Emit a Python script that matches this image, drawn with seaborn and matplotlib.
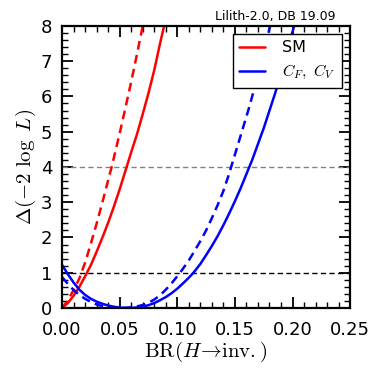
import matplotlib
matplotlib.use("Agg")
import matplotlib.pyplot as plt
import seaborn as sns
from matplotlib.ticker import MultipleLocator, FormatStrFormatter

# ==========================================================
#  Data
# ==========================================================
sm_br = [0.0, 0.005, 0.010, 0.015, 0.020, 0.025, 0.030, 0.035, 0.040, 0.045, 0.050,
         0.056, 0.060, 0.065, 0.070, 0.075, 0.080, 0.085, 0.0885]
sm_chi2 = [0.0, 0.14, 0.35, 0.60, 0.90, 1.22, 1.60, 2.0, 2.42, 2.88, 3.37,
           4.0, 4.42, 4.93, 5.5, 6.1, 6.75, 7.5, 8.0]

sm_dash_br = [0.0, 0.005, 0.010, 0.015, 0.020, 0.025, 0.030, 0.035, 0.040, 0.043,
              0.045, 0.050, 0.055, 0.060, 0.065, 0.070]
sm_dash_chi2 = [0.0, 0.22, 0.51, 0.84, 1.29, 1.83, 2.4, 3.0, 3.63, 4.0,
                4.27, 4.96, 5.68, 6.42, 7.2, 8.0]

cfcv_br = [0.0, 0.005, 0.010, 0.015, 0.020, 0.025, 0.030, 0.035, 0.040, 0.045, 0.050,
           0.056, 0.060, 0.065, 0.070, 0.075, 0.080, 0.085, 0.090, 0.095, 0.100,
           0.105, 0.110, 0.114, 0.120, 0.125, 0.130, 0.135, 0.140, 0.145, 0.150,
           0.155, 0.160, 0.165, 0.170, 0.175, 0.180, 0.185, 0.190, 0.195, 0.2014]
cfcv_chi2 = [1.22, 0.96, 0.72, 0.52, 0.37, 0.26, 0.18, 0.12, 0.07, 0.035, 0.012,
             0.0, 0.003, 0.015, 0.04, 0.08, 0.14, 0.22, 0.31, 0.42, 0.55,
             0.70, 0.86, 1.0, 1.25, 1.5, 1.76, 2.04, 2.35, 2.68, 3.03,
             3.4, 3.8, 4.2, 4.65, 5.1, 5.6, 6.1, 6.65, 7.25, 8.0]

cfcv_dash_br = [0.0, 0.005, 0.010, 0.015, 0.020, 0.025, 0.030, 0.035, 0.040, 0.045,
                0.050, 0.055, 0.060, 0.065, 0.070, 0.075, 0.080, 0.085, 0.090, 0.095,
                0.1024, 0.110, 0.115, 0.120, 0.125, 0.130, 0.135, 0.140, 0.1444, 0.150,
                0.156, 0.162, 0.1675, 0.174, 0.1805]
cfcv_dash_chi2 = [0.88, 0.68, 0.51, 0.37, 0.26, 0.17, 0.10, 0.05, 0.02, 0.004,
                  0.0, 0.005, 0.02, 0.045, 0.085, 0.15, 0.24, 0.36, 0.52, 0.70,
                  1.0, 1.35, 1.62, 1.9, 2.2, 2.55, 2.92, 3.32, 3.75, 4.35,
                  5.0, 5.65, 6.3, 7.1, 8.0]

ref_levels = [1, 4]
ref_colors = ["black", "gray"]

# ==========================================================
#  Plot
# ==========================================================
sns.set_style("ticks")
plt.rcParams["font.family"] = ["DejaVu Sans"]
plt.rcParams["mathtext.fontset"] = "cm"
plt.rcParams["text.color"] = "black"
plt.rcParams["axes.labelcolor"] = "black"
plt.rcParams["xtick.color"] = "black"
plt.rcParams["ytick.color"] = "black"

fig = plt.figure(figsize=(3.81, 3.81), dpi=100)
ax = fig.add_axes([0.163, 0.1916, 0.756, 0.7404])

for lvl, c in zip(ref_levels, ref_colors):
    ax.axhline(lvl, color=c, lw=1.0, ls=(0, (3.8, 2.4)), zorder=1)

sns.lineplot(x=sm_br, y=sm_chi2, sort=False, estimator=None, color="red",
             lw=1.8, ax=ax, label="SM")
sns.lineplot(x=cfcv_br, y=cfcv_chi2, sort=False, estimator=None, color="blue",
             lw=1.8, ax=ax, label=r"$C_F,\ C_V$")
sns.lineplot(x=sm_dash_br, y=sm_dash_chi2, sort=False, estimator=None, color="red",
             lw=1.8, ls=(0, (3.5, 2.2)), ax=ax)
sns.lineplot(x=cfcv_dash_br, y=cfcv_dash_chi2, sort=False, estimator=None, color="blue",
             lw=1.8, ls=(0, (3.5, 2.2)), ax=ax)

ax.set_xlim(0, 0.25)
ax.set_ylim(0, 8)
ax.xaxis.set_major_locator(MultipleLocator(0.05))
ax.xaxis.set_minor_locator(MultipleLocator(0.01))
ax.yaxis.set_major_locator(MultipleLocator(1))
ax.yaxis.set_minor_locator(MultipleLocator(0.2))
ax.xaxis.set_major_formatter(FormatStrFormatter("%.2f"))

ax.tick_params(which="both", direction="in", top=True, right=True, labelsize=13,
               color="black", labelcolor="black")
ax.tick_params(which="major", length=8, width=1.3)
ax.tick_params(axis="x", which="major", pad=9)
ax.tick_params(axis="y", which="major", pad=7)
ax.tick_params(which="minor", length=4, width=1.0)
for sp in ax.spines.values():
    sp.set_linewidth(1.6)
    sp.set_color("black")

ax.set_xlabel(r"$\mathrm{BR}(H\!\rightarrow\!\mathrm{inv.})$", fontsize=15, labelpad=1)
ax.set_ylabel(r"$\Delta(-2\ \log\ L)$", fontsize=15, labelpad=2)

leg = ax.legend(loc="upper right", fontsize=11.5, frameon=True, fancybox=False,
                framealpha=1, edgecolor="black", handlelength=1.6,
                handletextpad=1.1, borderaxespad=0.5, borderpad=0.4)
leg.get_frame().set_linewidth(1.0)

ax.text(0.95, 1.012, "Lilith-2.0, DB 19.09", transform=ax.transAxes,
        ha="right", va="bottom", fontsize=9)

plt.savefig("out.png", dpi=100)
plt.close()
